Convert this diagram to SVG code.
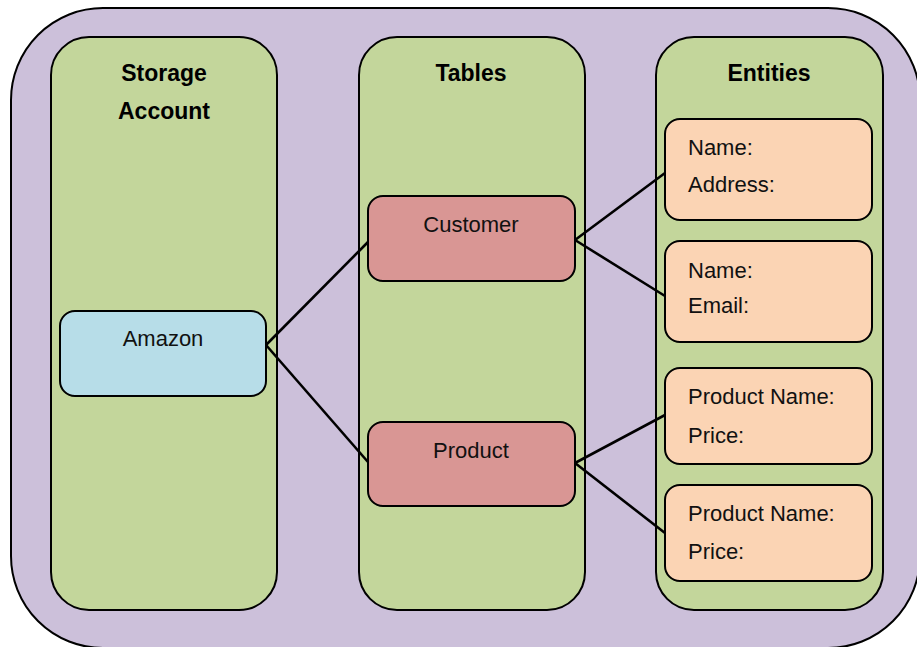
<svg xmlns="http://www.w3.org/2000/svg" width="917" height="647" viewBox="0 0 917 647">
<style>
.box{stroke:#000;stroke-width:2}
.col{fill:#c3d69b}
.ent{fill:#fbd4b4}
.tbl{fill:#d99694}
.hd{font-family:"Liberation Sans",Arial,sans-serif;font-size:23px;font-weight:bold;text-anchor:middle;fill:#000}
.t{font-family:"Liberation Sans",Arial,sans-serif;font-size:22px;fill:#111}
.c{text-anchor:middle}
.ln{stroke:#000;stroke-width:2.6;fill:none}
</style>
<rect width="917" height="647" fill="#fff"/>
<g id="container"><rect class="box" x="11" y="8" width="909" height="640" rx="92" fill="#ccc0da"/></g>
<g id="col-storage"><rect class="box col" x="51" y="37" width="226" height="573" rx="38"/><text class="hd" x="164" y="81">Storage</text><text class="hd" x="164" y="119">Account</text></g>
<g id="col-tables"><rect class="box col" x="359" y="37" width="226" height="573" rx="38"/><text class="hd" x="471" y="81">Tables</text></g>
<g id="col-entities"><rect class="box col" x="656" y="37" width="227" height="573" rx="38"/><text class="hd" x="769" y="81">Entities</text></g>
<g id="connectors">
<path class="ln" d="M266 345 L368 242"/>
<path class="ln" d="M266 345 L368 462"/>
<path class="ln" d="M575 240 L665 173"/>
<path class="ln" d="M575 240 L665 296"/>
<path class="ln" d="M575 463 L665 415"/>
<path class="ln" d="M575 463 L665 533"/>
</g>
<g id="amazon"><rect class="box" x="60" y="311" width="206" height="85" rx="15" fill="#b7dde8"/><text class="t c" x="163" y="346">Amazon</text></g>
<g id="customer"><rect class="box tbl" x="368" y="196" width="207" height="85" rx="15"/><text class="t c" x="471" y="232">Customer</text></g>
<g id="product"><rect class="box tbl" x="368" y="422" width="207" height="84" rx="15"/><text class="t c" x="471" y="458">Product</text></g>
<g id="entity1"><rect class="box ent" x="665" y="119" width="207" height="101" rx="15"/><text class="t" x="688" y="155">Name:</text><text class="t" x="688" y="192">Address:</text></g>
<g id="entity2"><rect class="box ent" x="665" y="241" width="207" height="101" rx="15"/><text class="t" x="688" y="278">Name:</text><text class="t" x="688" y="313">Email:</text></g>
<g id="entity3"><rect class="box ent" x="665" y="368" width="207" height="96" rx="15"/><text class="t" x="688" y="404">Product Name:</text><text class="t" x="688" y="443">Price:</text></g>
<g id="entity4"><rect class="box ent" x="665" y="485" width="207" height="96" rx="15"/><text class="t" x="688" y="521">Product Name:</text><text class="t" x="688" y="559">Price:</text></g>
</svg>
